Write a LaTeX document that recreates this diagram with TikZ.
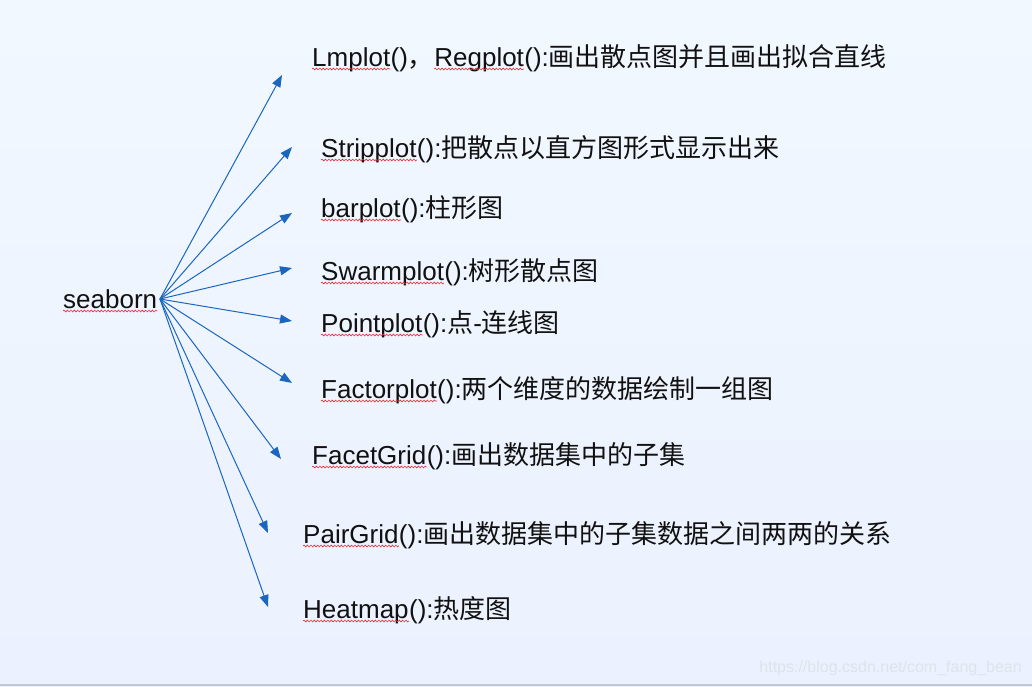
\documentclass[tikz,border=0pt]{standalone}
\usepackage{fontspec}
\setmainfont{Liberation Sans}
\newfontfamily\cjk{Noto Sans CJK SC}
\usetikzlibrary{arrows.meta, decorations.pathmorphing}
\definecolor{Canvas}{HTML}{F2F8FF}
\definecolor{CanvasLow}{HTML}{EBF1FE}
\definecolor{Rule}{HTML}{C4C8D0}
\definecolor{Ink}{HTML}{111111}
\definecolor{Arrow}{HTML}{1A66BF}
\definecolor{Wave}{HTML}{E8303A}
\definecolor{Mark}{HTML}{DFE3EA}

\begin{document}
\begin{tikzpicture}[
  x=1pt, y=-1pt,
  word/.style={
    inner sep=0pt,
    anchor=base west,
    text=Ink,
    font=\fontsize{26}{30}\selectfont
  },
  link/.style={
    -{Triangle[length=12pt,width=9pt]},
    line width=1pt,
    draw=Arrow
  },
  typo/.style={
    draw=Wave,
    line width=0.6pt,
    decorate,
    decoration={snake, amplitude=0.9pt, segment length=3.4pt}
  }
]

\shade[top color=Canvas, bottom color=CanvasLow] (0,0) rectangle (1032,686);
\fill[Rule] (0,683.5) rectangle (1032,686);

\node[word] (root) at (63,308) {seaborn};
\coordinate (hub) at (160,299);

\node[word] (w1) at (312,66) {Lmplot};
\node[word] (r1) at (w1.base east) {(){\cjk ，}};
\node[word] (w1b) at (r1.base east) {Regplot};
\node[word] (r1b) at (w1b.base east) {():{\cjk 画出散点图并且画出拟合直线}};

\node[word] (w2) at (321,157) {Stripplot};
\node[word] (r2) at (w2.base east) {():{\cjk 把散点以直方图形式显示出来}};

\node[word] (w3) at (321,217) {barplot};
\node[word] (r3) at (w3.base east) {():{\cjk 柱形图}};

\node[word] (w4) at (321,280) {Swarmplot};
\node[word] (r4) at (w4.base east) {():{\cjk 树形散点图}};

\node[word] (w5) at (321,332) {Pointplot};
\node[word] (r5) at (w5.base east) {():{\cjk 点}-{\cjk 连线图}};

\node[word] (w6) at (321,398) {Factorplot};
\node[word] (r6) at (w6.base east) {():{\cjk 两个维度的数据绘制一组图}};

\node[word] (w7) at (312,464) {FacetGrid};
\node[word] (r7) at (w7.base east) {():{\cjk 画出数据集中的子集}};

\node[word] (w8) at (303,543) {PairGrid};
\node[word] (r8) at (w8.base east) {():{\cjk 画出数据集中的子集数据之间两两的关系}};

\node[word] (w9) at (303,618) {Heatmap};
\node[word] (r9) at (w9.base east) {():{\cjk 热度图}};

\coordinate (t1) at (282,75);
\coordinate (t2) at (292,147);
\coordinate (t3) at (292,213);
\coordinate (t4) at (292,268);
\coordinate (t5) at (292,321);
\coordinate (t6) at (292,383);
\coordinate (t7) at (281,459);
\coordinate (t8) at (268,533);
\coordinate (t9) at (268,607);

\foreach \i in {1,...,9}
  \draw[link] (hub) -- (t\i);

\foreach \w in {root,w1,w1b,w2,w3,w4,w5,w6,w7,w8,w9}
  \draw[typo] ([yshift=-3pt]\w.base west) -- ([yshift=-3pt]\w.base east);

\node[anchor=base east, inner sep=0pt, text=Mark, font=\fontsize{16}{18}\selectfont]
  (mark) at (1022,672) {https://blog.csdn.net/com\_fang\_bean};

\end{tikzpicture}
\end{document}
